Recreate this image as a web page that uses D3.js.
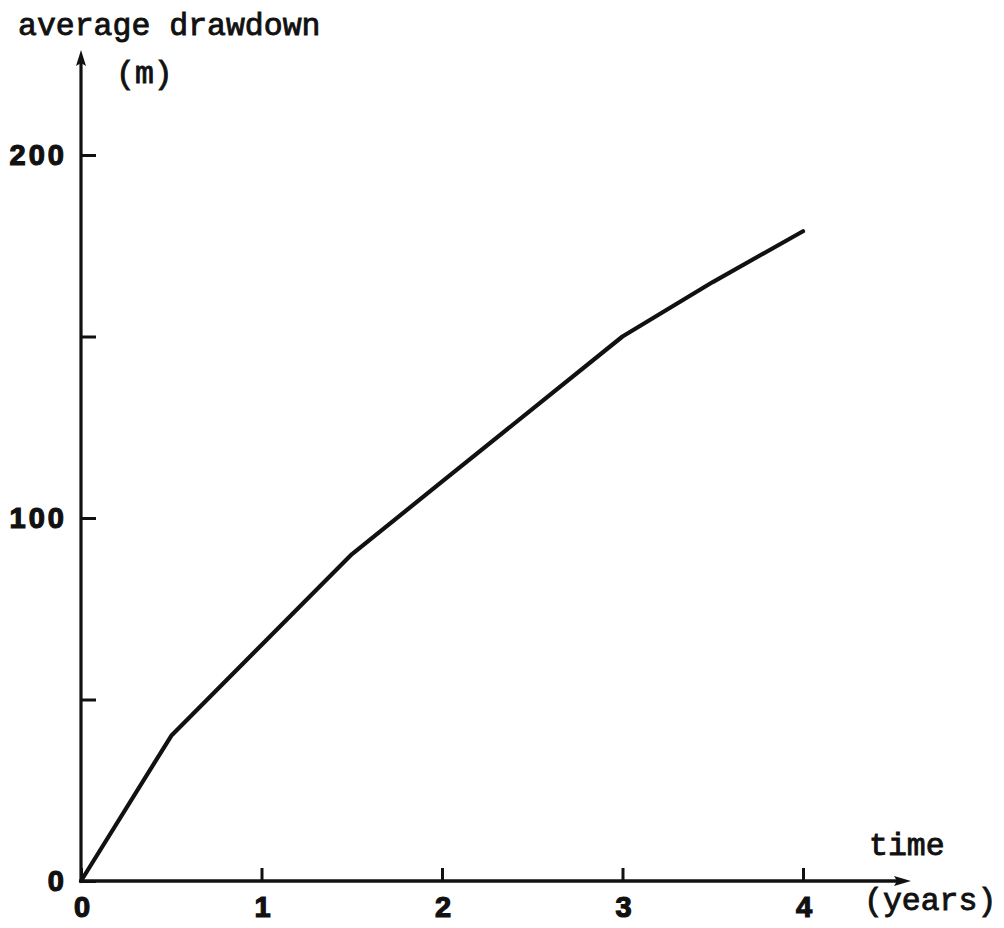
<!DOCTYPE html>
<html>
<head>
<meta charset="utf-8">
<script src="https://cdn.jsdelivr.net/npm/d3@7"></script>
<style>
  html, body { margin: 0; padding: 0; background: #fff; }
  svg { display: block; }
  .mono { font-family: "Liberation Mono", "Courier New", monospace; font-weight: normal; font-size: 31.5px; fill: #111; stroke: #111; stroke-width: 0.9px; }
  .tick text { font-family: "Liberation Sans", Arial, Helvetica, sans-serif; font-weight: bold; font-size: 29px; letter-spacing: 3px; fill: #111; stroke: #111; stroke-width: 1.2px; }
</style>
</head>
<body>
<script>
// Average drawdown over time
const years     = [0, 0.5, 1, 1.5, 2, 2.5, 3, 3.5, 4];
const drawdown  = [0, 40, 65, 90, 110, 130, 150, 165, 179];
const xTicks    = [0, 1, 2, 3, 4];
const yTicks    = [0, 50, 100, 150, 200];
const yLabelled = [0, 100, 200];

const W = 1004, H = 928;
const x0 = 81, y0 = 881;

const x = d3.scaleLinear().domain([0, 4]).range([x0, 803]);
const y = d3.scaleLinear().domain([0, 200]).range([y0, 155]);

const svg = d3.select("body").append("svg").attr("width", W).attr("height", H);

function styleTicks(g) {
  g.attr("font-family", null).attr("font-size", null);
  g.selectAll(".tick line").attr("stroke", "#111").attr("stroke-width", 3);
  g.select(".domain").remove();
}

// Y axis with inward ticks
const yAxis = d3.axisLeft(y)
  .tickValues(yTicks)
  .tickFormat(d => yLabelled.includes(d) ? d : "")
  .tickSizeInner(-15).tickSizeOuter(0).tickPadding(14);
svg.append("g").attr("transform", `translate(${x0},0)`).call(yAxis).call(styleTicks);

// X axis with inward ticks
const xAxis = d3.axisBottom(x)
  .tickValues(xTicks)
  .tickFormat(d3.format("d"))
  .tickSizeInner(-13).tickSizeOuter(0).tickPadding(15);
const gx = svg.append("g").attr("transform", `translate(0,${y0})`).call(xAxis).call(styleTicks);
gx.selectAll(".tick text").attr("dx", "2px");

// Axis lines
const yTop = 50, xEnd = 911;
svg.append("line")
  .attr("x1", x0).attr("y1", y0 + 1.5).attr("x2", x0).attr("y2", yTop + 10)
  .attr("stroke", "#111").attr("stroke-width", 3.2);
svg.append("line")
  .attr("x1", x0 - 1.5).attr("y1", y0).attr("x2", xEnd - 10).attr("y2", y0)
  .attr("stroke", "#111").attr("stroke-width", 3.6);

// Arrowheads
svg.append("path")
  .attr("d", `M${x0},${yTop} L${x0 + 5},${yTop + 16} L${x0},${yTop + 13} L${x0 - 5},${yTop + 16} Z`)
  .attr("fill", "#111");
svg.append("path")
  .attr("d", `M${xEnd},${y0} L${xEnd - 17},${y0 - 5} L${xEnd - 14},${y0} L${xEnd - 17},${y0 + 5} Z`)
  .attr("fill", "#111");

// Drawdown curve
const line = d3.line().x((d, i) => x(years[i])).y(d => y(d));
svg.append("path")
  .datum(drawdown)
  .attr("d", line)
  .attr("fill", "none")
  .attr("stroke", "#111")
  .attr("stroke-width", 4.2)
  .attr("stroke-linejoin", "round")
  .attr("stroke-linecap", "round");

// Axis titles
svg.append("text").attr("class", "mono").attr("x", 18).attr("y", 35).text("average drawdown");
svg.append("text").attr("class", "mono").attr("x", 116).attr("y", 83).text("(m)");
svg.append("text").attr("class", "mono").attr("x", 869).attr("y", 855).text("time");
svg.append("text").attr("class", "mono").attr("x", 864).attr("y", 910).text("(years)");
</script>
</body>
</html>
